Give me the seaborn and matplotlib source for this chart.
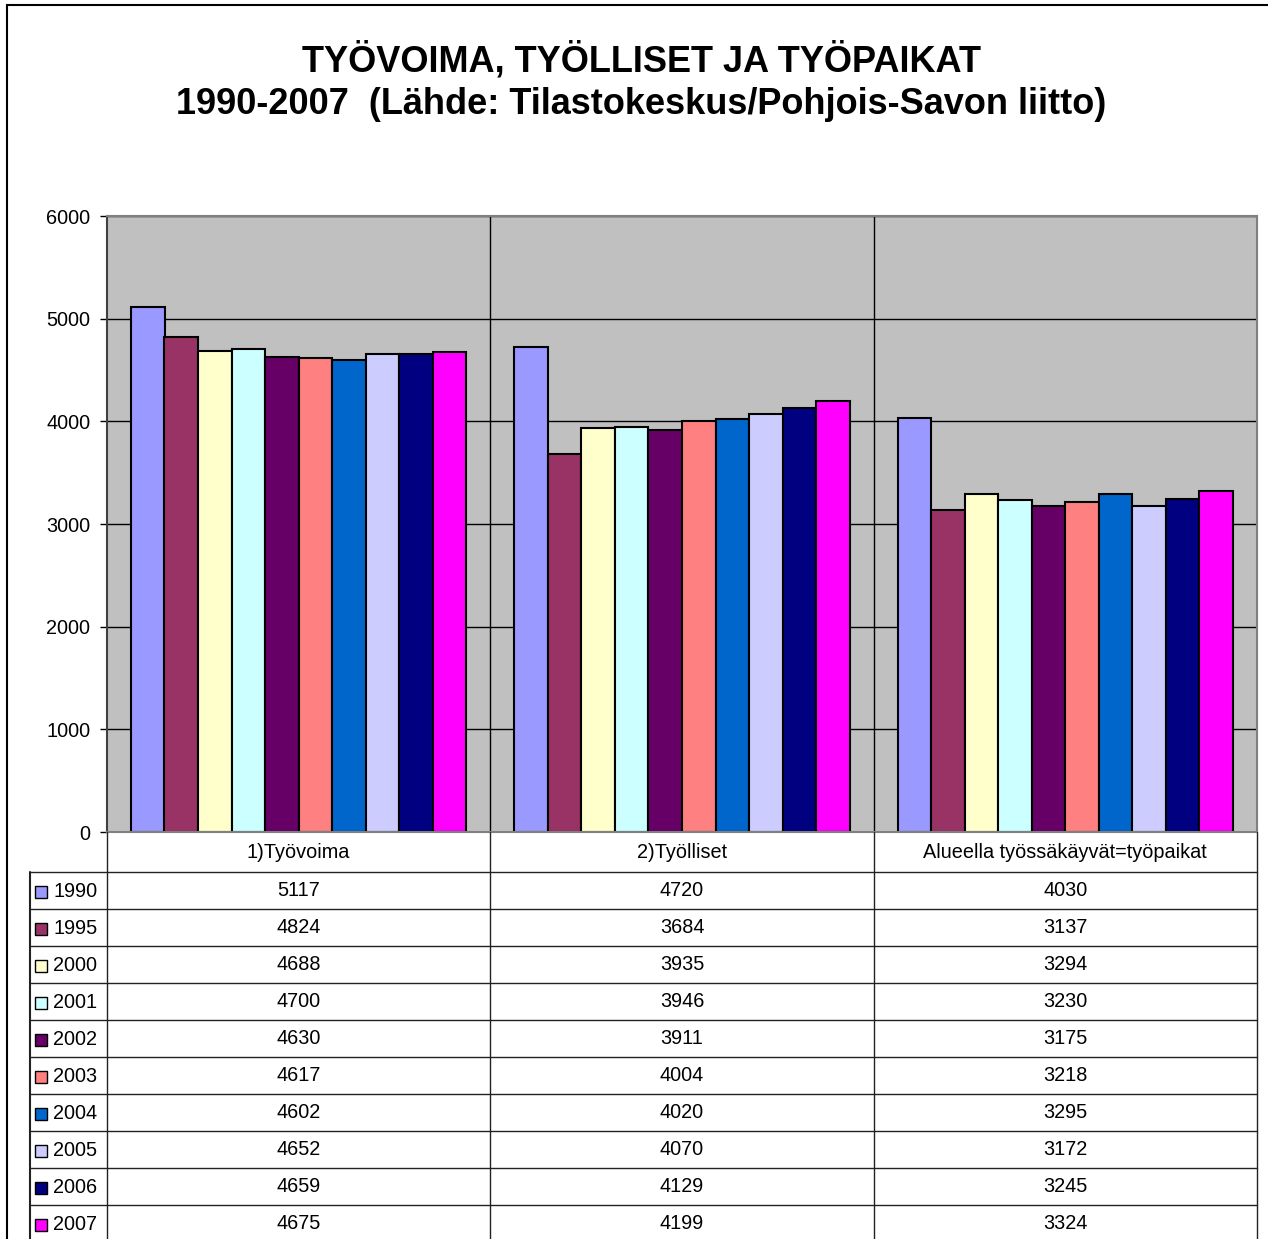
import matplotlib
matplotlib.use('Agg')
import matplotlib.pyplot as plt
import pandas as pd
import seaborn as sns
from matplotlib.patches import Rectangle

title_1 = 'TYÖVOIMA, TYÖLLISET JA TYÖPAIKAT'
title_2 = '1990-2007  (Lähde: Tilastokeskus/Pohjois-Savon liitto)'
categories = ['1)Työvoima', '2)Työlliset', 'Alueella työssäkäyvät=työpaikat']
years = ['1990', '1995', '2000', '2001', '2002', '2003', '2004', '2005', '2006', '2007']
tyovoima = [5117, 4824, 4688, 4700, 4630, 4617, 4602, 4652, 4659, 4675]
tyolliset = [4720, 3684, 3935, 3946, 3911, 4004, 4020, 4070, 4129, 4199]
tyopaikat = [4030, 3137, 3294, 3230, 3175, 3218, 3295, 3172, 3245, 3324]
colors = ['#9999FF', '#993366', '#FFFFCC', '#CCFFFF', '#660066',
          '#FF8080', '#0066CC', '#CCCCFF', '#000080', '#FF00FF']
yticks = [0, 1000, 2000, 3000, 4000, 5000, 6000]

series = [tyovoima, tyolliset, tyopaikat]
df = pd.DataFrame({
    'kategoria': [c for c, s in zip(categories, series) for _ in s],
    'vuosi': [y for s in series for y in years],
    'arvo': [v for s in series for v in s],
})

sns.set_style('white')
plt.rcParams['font.family'] = ['Liberation Sans', 'DejaVu Sans']
plt.rcParams['text.color'] = 'black'
plt.rcParams['ytick.color'] = 'black'
plt.rcParams['ytick.labelcolor'] = 'black'

W, H = 1268, 1239
fig = plt.figure(figsize=(W / 100, H / 100), dpi=100)
fs = 14.3


def px(l, t, r, b):
    return [l / W, 1 - b / H, (r - l) / W, (b - t) / H]


# outer frame
fig.patches.append(Rectangle((7 / W, -0.1), 1.2, 1 - 5 / H + 0.1, transform=fig.transFigure,
                             fill=False, edgecolor='black', linewidth=1.5))

fig.text(641 / W, 1 - 61 / H, title_1, ha='center', va='center', fontsize=26, fontweight='bold')
fig.text(641 / W, 1 - 104 / H, title_2, ha='center', va='center', fontsize=26, fontweight='bold')

ax = fig.add_axes(px(107, 216, 1257, 832))
ax.set_facecolor('#C0C0C0')
sns.barplot(data=df, x='kategoria', y='arvo', hue='vuosi', palette=colors, width=0.875,
            gap=0, saturation=1, edgecolor='black', linewidth=1.5, legend=False, ax=ax)
ax.set_xlim(-0.5, 2.5)
ax.set_ylim(0, 6000)
ax.set_yticks(yticks)
ax.set_yticklabels([str(t) for t in yticks], fontsize=fs)
ax.set_xticks([])
ax.set_xlabel('')
ax.set_ylabel('')
ax.set_axisbelow(True)
for t in yticks[1:]:
    ax.axhline(t, color='black', linewidth=1, zorder=0.5)
for xv in [0.5, 1.5]:
    ax.axvline(xv, color='black', linewidth=1, zorder=0.5)
ax.tick_params(axis='y', direction='out', length=5, width=1, color='black', pad=7, left=True)
for side, sp in ax.spines.items():
    sp.set_color('#808080')
    sp.set_linewidth(1.5)
ax.spines['left'].set_color('#404040')

# data table
unit = 3 / 1150
xl = -0.5 - 77 * unit
tax = fig.add_axes(px(30, 832, 1257, 1239))
tax.set_xlim(xl, 2.5)
tax.set_ylim(407, 0)
tax.axis('off')
head = 40
row = 37
for i in range(len(years) + 1):
    tax.plot([xl, 2.5], [head + row * i] * 2, color='#222222', linewidth=1, clip_on=False)
for xv in [-0.5, 0.5, 1.5, 2.5]:
    tax.plot([xv, xv], [0, 407], color='#222222', linewidth=1, clip_on=False)
tax.plot([xl, xl], [head, 407], color='#222222', linewidth=1.5, clip_on=False)

for j, c in enumerate(categories):
    tax.text(j, head / 2, c, ha='center', va='center', fontsize=fs)
for i, y in enumerate(years):
    yc = head + row * i + row / 2 + 1
    tax.plot(xl + 11 * unit, yc, marker='s', markersize=9, color=colors[i],
             markeredgecolor='black', markeredgewidth=1, clip_on=False)
    tax.text(xl + 23 * unit, yc, y, ha='left', va='center', fontsize=fs)
    for j, s in enumerate(series):
        tax.text(j, yc - 1, str(s[i]), ha='center', va='center', fontsize=fs)

fig.savefig('out.png', dpi=100)
